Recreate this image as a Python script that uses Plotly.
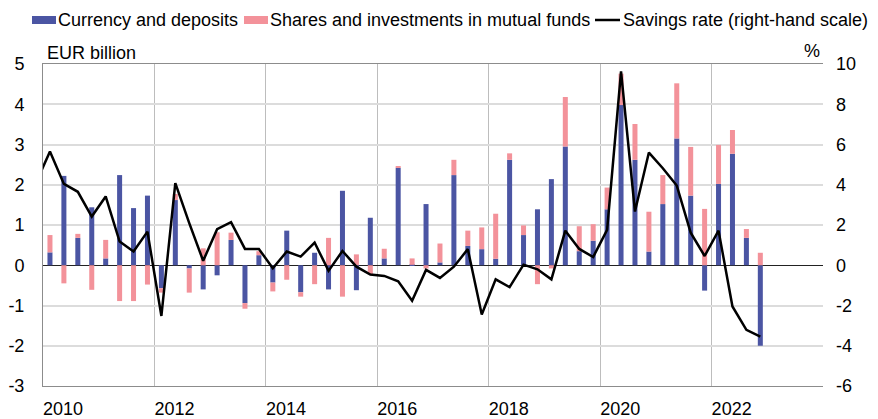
import plotly.graph_objects as go
import pandas as pd

# Quarterly data, 2010Q1-2022Q4 (EUR billion)
currency_deposits = [
    0.32, 2.22, 0.68, 1.44, 0.17, 2.24, 1.42, 1.73,
    -0.57, 1.62, -0.08, -0.60, -0.25, 0.63, -0.94, 0.25,
    -0.43, 0.86, -0.67, 0.31, -0.60, 1.85, -0.62, 1.18,
    0.17, 2.42, 0.01, 1.52, 0.07, 2.24, 0.48, 0.40,
    0.16, 2.62, 0.75, 1.39, 2.14, 2.95, 0.35, 0.61,
    1.39, 3.98, 2.62, 0.34, 1.52, 3.15, 1.73, -0.63,
    2.02, 2.77, 0.68, -2.00,
]
shares_funds = [
    0.43, -0.45, 0.10, -0.61, 0.46, -0.89, -0.89, -0.48,
    -0.11, 0.15, -0.60, 0.42, 0.82, 0.18, -0.14, 0.10,
    -0.22, -0.36, -0.11, -0.47, 0.68, -0.78, 0.27, -0.22,
    0.24, 0.03, 0.16, -0.08, 0.47, 0.38, 0.38, 0.54,
    1.12, 0.16, 0.24, -0.47, -0.08, 1.23, 0.62, 0.41,
    0.54, 0.78, 0.89, 0.99, 0.72, 1.37, 1.21, 1.40,
    0.97, 0.59, 0.22, 0.31,
]
# Savings rate (%), 2009Q4-2022Q4
savings_rate = [
    4.1,
    5.65, 4.04, 3.65, 2.42, 3.42, 1.18, 0.68, 1.67,
    -2.52, 4.08, 2.09, 0.22, 1.79, 2.14, 0.81, 0.81,
    -0.15, 0.68, 0.43, 1.13, -0.28, 0.71, -0.07, -0.46,
    -0.53, -0.80, -1.76, -0.23, -0.63, -0.07, 0.80, -2.45,
    -0.70, -1.09, 0.03, -0.20, -0.70, 1.72, 0.81, 0.41,
    1.76, 9.63, 2.67, 5.60, 4.82, 3.96, 1.62, 0.46,
    1.72, -2.05, -3.21, -3.55,
]
year_labels = [2010, 2012, 2014, 2016, 2018, 2020, 2022]
left_ticks = [-3, -2, -1, 0, 1, 2, 3, 4, 5]
right_ticks = [-6, -4, -2, 0, 2, 4, 6, 8, 10]
series_names = ["Currency and deposits", "Shares and investments in mutual funds",
                "Savings rate (right-hand scale)"]


def quarter_pos(periods):
    # position of each quarter on a continuous year axis (mid-quarter)
    return [p.year + (p.quarter - 0.5) / 4 for p in periods]


bar_x = quarter_pos(pd.period_range("2010Q1", "2022Q4", freq="Q"))
line_x = quarter_pos(pd.period_range("2009Q4", "2022Q4", freq="Q"))

BLUE = "#4b55a3"
PINK = "#f3929a"
FONT = "Liberation Sans, Arial, sans-serif"

# plot area in page pixels (page has 8px body margin)
PL, PR, PT, PB = 43, 823, 64, 386


def px(x):
    return (x - PL) / (PR - PL)


def py(y):
    return (PB - y) / (PB - PT)


fig = go.Figure()
fig.add_trace(go.Bar(x=bar_x, y=currency_deposits, name=series_names[0],
                     marker=dict(color=BLUE, line_width=0), width=0.09))
fig.add_trace(go.Bar(x=bar_x, y=shares_funds, name=series_names[1],
                     marker=dict(color=PINK, line_width=0), width=0.09))
fig.add_trace(go.Scatter(x=line_x, y=savings_rate, name=series_names[2],
                         mode="lines", line=dict(color="black", width=2.5), yaxis="y2"))

# hand-built legend, one row across the top
legend_shapes = [
    dict(type="rect", xref="paper", yref="paper", x0=px(32), x1=px(56), y0=py(24), y1=py(16),
         fillcolor=BLUE, line_width=0),
    dict(type="rect", xref="paper", yref="paper", x0=px(244), x1=px(268), y0=py(24), y1=py(16),
         fillcolor=PINK, line_width=0),
    dict(type="line", xref="paper", yref="paper", x0=px(595), x1=px(620), y0=py(20), y1=py(20),
         line=dict(color="black", width=2.5)),
]
legend_text = [
    dict(text=name, x=px(xs), y=py(20), xref="paper", yref="paper", xanchor="left",
         yanchor="middle", showarrow=False, borderpad=0)
    for name, xs in zip(series_names, [57, 269, 622])
]

fig.update_layout(
    width=870, height=411,
    margin=dict(l=PL - 8, r=878 - PR, t=PT - 8, b=419 - PB, autoexpand=False),
    barmode="relative",
    plot_bgcolor="white", paper_bgcolor="white",
    font=dict(family=FONT, size=18, color="black"),
    showlegend=False,
    xaxis=dict(range=[2010, 2024], tickmode="array",
               tickvals=[y + 0.36 for y in year_labels], ticktext=[str(y) for y in year_labels],
               showgrid=False, ticks="", showline=True, linecolor="#8c8c8c", mirror=True,
               minor=dict(tick0=2010, dtick=2, showgrid=True, gridcolor="#bdbdbd", gridwidth=1),
               zeroline=False, ticklabelstandoff=6),
    yaxis=dict(range=[-3, 5], tickmode="array", tickvals=left_ticks,
               ticktext=[str(v) for v in left_ticks],
               showgrid=True, gridcolor="#dcdcdc", gridwidth=1.5,
               zeroline=True, zerolinecolor="#222222", zerolinewidth=1,
               showline=True, linecolor="#8c8c8c", ticks="", ticklabelstandoff=14),
    yaxis2=dict(range=[-6, 10], tickmode="array", tickvals=right_ticks,
                ticktext=[str(v) for v in right_ticks], overlaying="y", side="right",
                showgrid=False, zeroline=False, showline=False, ticks="", ticklabelstandoff=12),
    shapes=legend_shapes,
    annotations=legend_text + [
        dict(text="EUR billion", x=px(46), y=py(53), xref="paper", yref="paper", xanchor="left",
             yanchor="middle", showarrow=False, borderpad=0),
        dict(text="%", x=px(821), y=py(51), xref="paper", yref="paper", xanchor="right",
             yanchor="middle", showarrow=False, borderpad=0),
    ],
)

fig.write_html("out.html")
